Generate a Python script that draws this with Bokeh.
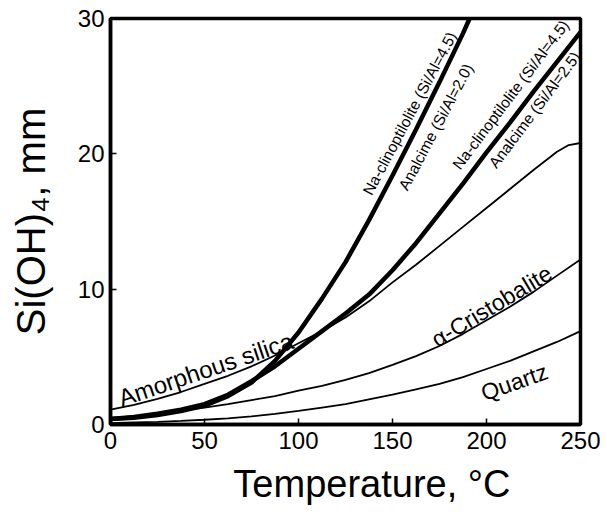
import math
from bokeh.plotting import figure
from bokeh.models import Range1d, Label, FixedTicker
from bokeh.embed import file_html
from bokeh.resources import INLINE

# ---------------- data ----------------
temp_grid = [0, 12.5, 25, 37.5, 50, 62.5, 75, 87.5, 100, 112.5, 125, 137.5,
             150, 162.5, 175, 187.5, 200, 212.5, 225, 237.5, 250]

quartz = [0.1, 0.15, 0.2, 0.27, 0.35, 0.45, 0.6, 0.78, 1.0, 1.25, 1.5, 1.85,
          2.2, 2.6, 3.0, 3.5, 4.1, 4.7, 5.4, 6.1, 6.9]

cristobalite = [0.4, 0.55, 0.75, 1.0, 1.25, 1.5, 1.8, 2.1, 2.5, 2.85, 3.3, 3.8,
                4.4, 5.05, 5.8, 6.7, 7.7, 8.7, 9.8, 11.0, 12.2]

amorphous_temp = [0, 12.5, 25, 37.5, 50, 62.5, 75, 87.5, 100, 112.5, 125, 137.5,
                  150, 162.5, 175, 187.5, 200, 212.5, 225, 237.5, 243.75, 250]
amorphous = [1.1, 1.45, 1.9, 2.4, 3.0, 3.6, 4.3, 5.1, 6.0, 6.9, 7.9, 9.1,
             10.5, 11.8, 13.2, 14.6, 16.0, 17.4, 18.8, 20.15, 20.65, 20.8]

clino45_anal20_temp = [0, 12.5, 25, 37.5, 50, 62.5, 75, 87.5, 100, 112.5, 125,
                       137.5, 150, 162.5, 175, 187.5, 191]
clino45_anal20 = [0.4, 0.5, 0.7, 1.0, 1.4, 2.1, 3.1, 4.7, 6.8, 9.3, 12.0,
                  15.1, 18.4, 21.8, 25.3, 28.9, 30.0]

clino45_anal25 = [0.4, 0.55, 0.8, 1.1, 1.5, 2.2, 3.2, 4.3, 5.6, 6.9, 8.2, 9.6,
                  11.4, 13.4, 15.6, 17.8, 20.1, 22.3, 24.6, 26.8, 29.0]

x_ticks = [0, 50, 100, 150, 200, 250]
y_ticks = [0, 10, 20, 30]

FONT = "Liberation Sans"

p = figure(width=600, height=514, output_backend="svg", toolbar_location=None,
           x_range=Range1d(0, 250), y_range=Range1d(0, 30),
           min_border_left=110, min_border_right=20, min_border_top=18,
           min_border_bottom=90, background_fill_color="white",
           border_fill_color="white")
p.grid.visible = False
p.outline_line_color = "black"
p.outline_line_width = 3.5

for ax, ticks, standoff in ((p.xaxis, x_ticks, 7), (p.yaxis, y_ticks, 6)):
    ax.ticker = FixedTicker(ticks=ticks)
    ax.axis_line_width = 3.5
    ax.axis_line_color = "black"
    ax.major_tick_in = 6
    ax.major_tick_out = 0
    ax.major_tick_line_width = 1.5
    ax.minor_tick_line_color = None
    ax.major_label_text_font = FONT
    ax.major_label_text_font_size = "24px"
    ax.major_label_text_color = "black"
    ax.major_label_standoff = standoff
    ax.axis_label_text_font = FONT
    ax.axis_label_text_font_style = "normal"
    ax.axis_label_text_color = "black"

p.xaxis.axis_label = "\u00a0" * 5 + "Temperature, \u00b0C"
p.xaxis.axis_label_text_font_size = "38px"
p.xaxis.axis_label_standoff = 11
p.yaxis.axis_label = "Si(OH)\u2084, mm"
p.yaxis.axis_label_text_font_size = "40px"
p.yaxis.axis_label_standoff = 22

# thin curves
p.line(temp_grid, quartz, line_color="black", line_width=1.8)
p.line(temp_grid, cristobalite, line_color="black", line_width=1.8)
p.line(amorphous_temp, amorphous, line_color="black", line_width=1.8)
# thick curves
p.line(clino45_anal20_temp, clino45_anal20, line_color="black", line_width=4.5)
p.line(temp_grid, clino45_anal25, line_color="black", line_width=4.5)

def lab(x, y, text, deg, size):
    p.add_layout(Label(x=x, y=y, text=text, angle=math.radians(deg),
                       text_font=FONT, text_font_size=size,
                       text_align="left", text_baseline="alphabetic",
                       text_color="black"))

lab(4.7, 1.9, "Amorphous silica", 18.8, "24px")
lab(171.7, 6.16, "\u03b1-Cristobalite", 31, "23px")
lab(197.5, 2.27, "Quartz", 19.5, "23px")
lab(136.4, 17.05, "Na-clinoptilolite (Si/Al=4.5)", 62, "15.5px")
lab(155.4, 17.4, "Analcime (Si/Al=2.0)", 62, "15.5px")
lab(183.7, 19.0, "Na-clinoptilolite (Si/Al=4.5)", 53, "15.5px")
lab(203.0, 19.1, "Analcime (Si/Al=2.5)", 53, "15.5px")

open("out.html", "w").write(file_html(p, INLINE))
